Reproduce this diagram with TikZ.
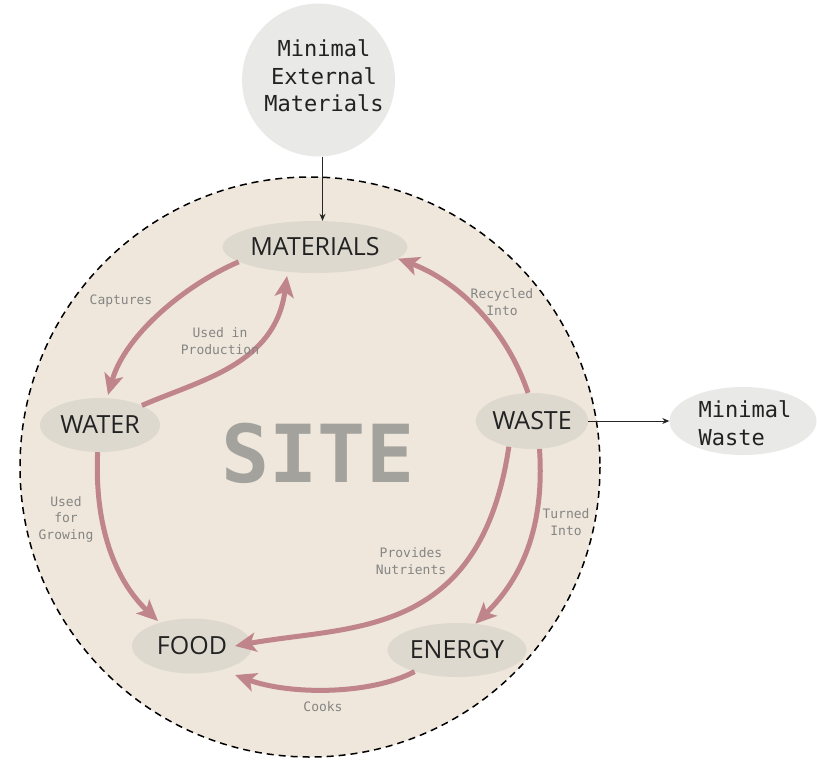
\documentclass[tikz,border=0pt]{standalone}
\usepackage{fontspec}
\setmainfont{Open Sans}
\newfontfamily\monof{DejaVu Sans Mono}
\usetikzlibrary{shapes.geometric,arrows.meta}
\definecolor{sitebg}{HTML}{EFE7DB}
\definecolor{nodefill}{HTML}{DDD9CF}
\definecolor{outfill}{HTML}{E9E9E8}
\definecolor{pinkc}{HTML}{C0848B}
\definecolor{lblgray}{HTML}{858585}
\definecolor{sitegray}{HTML}{A3A29D}
\definecolor{txtdark}{HTML}{222222}
\tikzset{
  proc/.style={ellipse, fill=nodefill, inner sep=0pt, text=txtdark,
    font=\fontsize{25}{30}\selectfont},
  outer/.style={fill=outfill, inner sep=0pt, text=txtdark},
  lbl/.style={font=\monof\fontsize{13}{16.5}\selectfont, text=lblgray, align=center},
  flow/.style={draw=pinkc, line width=5pt, line cap=butt,
    -{Stealth[length=21pt,width=19pt,inset=5pt]}},
  thin/.style={draw=black!85, line width=1pt, -{Stealth[length=7pt,width=6pt]}}
}
\begin{document}
\begin{tikzpicture}[x=1pt,y=-1pt]
\useasboundingbox (0,0) rectangle (817,761);
% site circle
\fill[sitebg] (310,467) circle[radius=290];
\draw[black, line width=1.5pt, dash pattern=on 7pt off 5pt] (310,467) circle[radius=290];
\node[text=sitegray, font=\monof\bfseries\fontsize{80}{80}\selectfont] (site) at (318,453) {SITE};

% outer nodes
\node[outer, circle, minimum size=153pt] (ext) at (318.5,80) {};
\node[font=\monof\fontsize{22}{27.5}\selectfont, text=txtdark, align=center] (extlbl) at (324,76) {Minimal\\External\\Materials};
\node[outer, ellipse, minimum width=147pt, minimum height=68pt] (mw) at (743,421) {};
\node[font=\monof\fontsize{22}{27.5}\selectfont, text=txtdark, align=left] (mwlbl) at (745,423) {Minimal\\Waste};

% process nodes
\node[proc, minimum width=185pt, minimum height=52pt] (mat) at (315,247) {MATERIALS};
\node[proc, minimum width=120pt, minimum height=54pt] (water) at (100,425) {WATER};
\node[proc, minimum width=110pt, minimum height=56pt] (waste) at (532,421) {WASTE};
\node[proc, minimum width=120pt, minimum height=55pt] (food) at (192,646) {FOOD};
\node[proc, minimum width=139pt, minimum height=54pt] (energy) at (457,650) {ENERGY};

% thin arrows
\draw[thin] (ext.273) -- (ext.273 |- mat.north);
\draw[thin] (waste.east) -- (mw.west);

% flows
\draw[flow] (mat.191) .. controls (185,285) and (125,335) .. ([shift={(8,-30)}]water.center);
\draw[flow] (water.25) .. controls (200,380) and (275,365) .. ([shift={(-28,29)}]mat.center);
\draw[flow] (waste.98) .. controls (505,325) and (455,280) .. (mat.352);
\draw[flow] (water.265) .. controls (94,535) and (120,585) .. ([shift={(-34,-25)}]food.center);
\draw[flow] (waste.228) .. controls (480,640) and (350,625) .. ([shift={(43,0)}]food.center);
\draw[flow] (waste.285) .. controls (545,530) and (520,580) .. (energy.55);
\draw[flow] (energy.207) .. controls (370,695) and (290,695) .. ([shift={(43,29)}]food.center);

% labels
\node[lbl] (l1) at (121,301) {Captures};
\node[lbl] (l2) at (220,341) {Used in\\Production};
\node[lbl] (l3) at (502,302) {Recycled\\Into};
\node[lbl] (l4) at (566,522) {Turned\\Into};
\node[lbl] (l5) at (411,561) {Provides\\Nutrients};
\node[lbl] (l6) at (66,519) {Used\\for\\Growing};
\node[lbl] (l7) at (323,707) {Cooks};
\end{tikzpicture}
\end{document}
